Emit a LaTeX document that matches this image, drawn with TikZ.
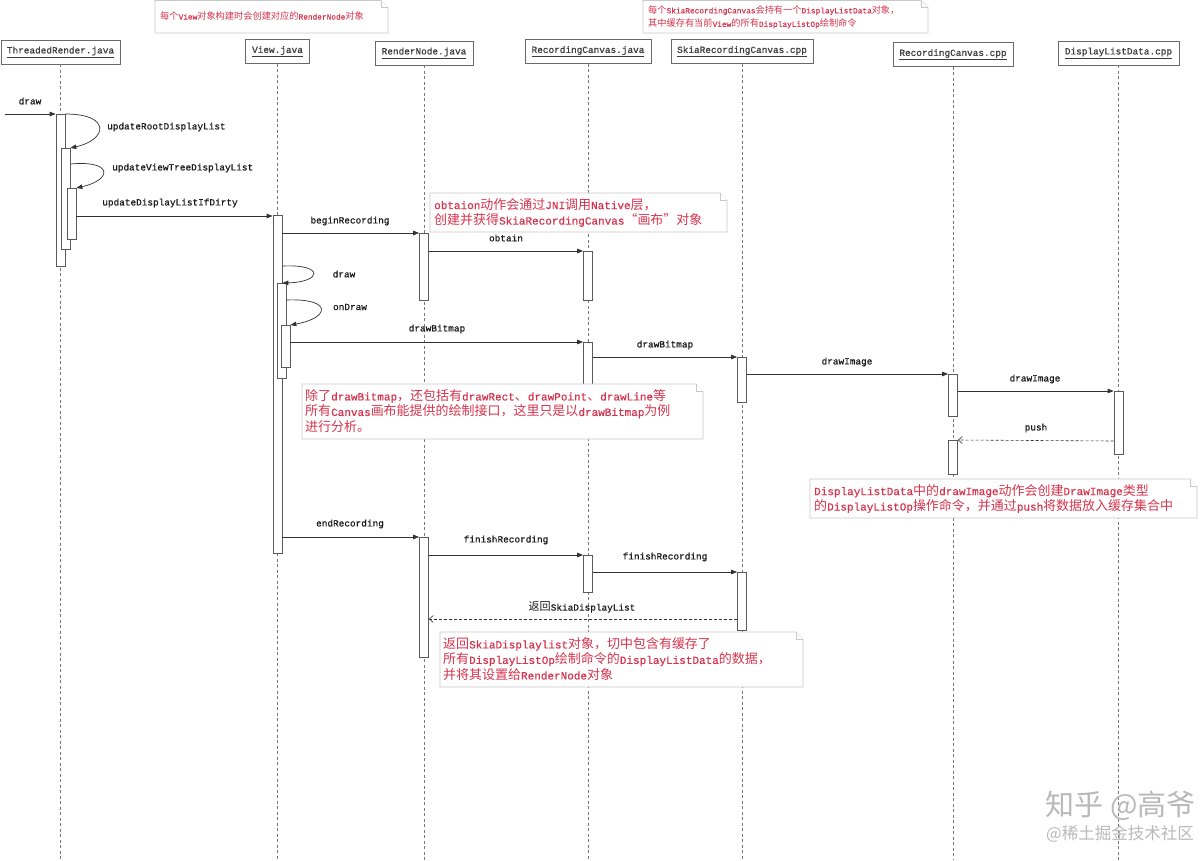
\documentclass[tikz,border=0pt]{standalone}
\usepackage{fontspec}
\setmainfont{Liberation Mono}[FakeBold=0.6]
\newfontfamily\cjkf{Noto Sans CJK SC}[Scale=1.18]
\newfontfamily\cjkw{Noto Sans CJK SC}
\newcommand\zh[1]{{\cjkf #1}}
\usetikzlibrary{arrows.meta}
\definecolor{notered}{RGB}{214,52,78}
\definecolor{notegray}{RGB}{200,200,200}
\definecolor{hdrgray}{RGB}{105,105,105}
\definecolor{hdrtext}{RGB}{60,60,60}
\definecolor{lifegray}{RGB}{120,120,120}
\definecolor{actgray}{RGB}{90,90,90}
\definecolor{msgc}{RGB}{50,50,50}
\definecolor{lblc}{RGB}{25,25,25}
\definecolor{wmgray}{RGB}{185,185,185}
\newcommand\notebox[4]{%
  \filldraw[notefr] (#1,#2) -- (#3-7,#2) -- (#3,#2+7) -- (#3,#4) -- (#1,#4) -- cycle;
  \draw[notefr] (#3-7,#2) -- (#3-7,#2+7) -- (#3,#2+7);}
\tikzset{
  hdr/.style={draw=hdrgray, line width=0.9pt, fill=white, text=hdrtext,
    font=\fontsize{9.4}{11}\selectfont, inner sep=0pt, minimum height=24pt},
  life/.style={draw=lifegray, line width=0.6pt, dash pattern=on 3pt off 2.5pt},
  act/.style={draw=actgray, fill=white, line width=0.7pt, minimum width=9pt,
    inner sep=0pt, anchor=north},
  msg/.style={draw=msgc, line width=0.7pt, -{Triangle[length=6pt,width=4.5pt]}},
  ret/.style={draw=msgc, line width=0.6pt, dash pattern=on 3pt off 2pt,
    -{Straight Barb[length=4pt,width=7pt]}},
  lbl/.style={font=\fontsize{9.4}{11}\selectfont, text=lblc, inner sep=0pt},
  notefr/.style={draw=notegray, fill=white, line width=0.7pt},
  notetx/.style={text=notered, align=left, anchor=west, inner sep=0pt,
    font=\fontsize{11}{15.5}\selectfont},
  notesm/.style={notetx, font=\fontsize{7.8}{13.5}\selectfont},
}
\begin{document}
\begin{tikzpicture}[x=1pt,y=-1pt]
\useasboundingbox (0,0) rectangle (1200,860);
\fill[white] (0,0) rectangle (1200,860);

% headers
\node[hdr, minimum width=119pt] (hTR) at (60.5,52) {\underline{ThreadedRender.java}};
\node[hdr, minimum width=64pt]  (hV)  at (277.5,51.5) {\underline{View.java}};
\node[hdr, minimum width=98pt]  (hRN) at (424,53) {\underline{RenderNode.java}};
\node[hdr, minimum width=126pt] (hRJ) at (588,51.5) {\underline{RecordingCanvas.java}};
\node[hdr, minimum width=142pt] (hS)  at (742,51.5) {\underline{SkiaRecordingCanvas.cpp}};
\node[hdr, minimum width=120pt] (hRC) at (953,54.5) {\underline{RecordingCanvas.cpp}};
\node[hdr, minimum width=121pt] (hD)  at (1118.5,53) {\underline{DisplayListData.cpp}};

% lifelines
\foreach \h in {hTR,hV,hRN,hRJ,hS,hRC,hD}
  \draw[life] (\h.south) -- (\h.south |- 0,860);

% activations
\node[act, minimum height=152pt] (tr1) at (60.5,114) {};
\node[act, minimum height=101pt] (tr2) at (65.5,148) {};
\node[act, minimum height=51pt]  (tr3) at (71.5,188) {};
\node[act, minimum height=338pt] (v1) at (277.5,215) {};
\node[act, minimum height=95pt]  (v2) at (281.5,283) {};
\node[act, minimum height=42pt]  (v3) at (285.5,325) {};
\node[act, minimum height=67pt]  (rn1) at (424,233) {};
\node[act, minimum height=120pt] (rn2) at (424,537) {};
\node[act, minimum height=49pt]  (rj1) at (588,251) {};
\node[act, minimum height=78pt]  (rj2) at (588,342) {};
\node[act, minimum height=37pt]  (rj3) at (588,555) {};
\node[act, minimum height=45pt]  (s1) at (742,357) {};
\node[act, minimum height=58pt]  (s2) at (742,572) {};
\node[act, minimum height=42pt]  (c1) at (953,374) {};
\node[act, minimum height=34pt]  (c2) at (953,440) {};
\node[act, minimum height=63pt]  (d1) at (1118.5,391) {};

% messages
\coordinate (start) at (5,114);
\draw[msg] (start) -- (tr1.north west);
\node[lbl] (l1) at (30,101) {draw};
\draw[msg] (tr1.north east) .. controls (112,114) and (107,140) .. (tr2.north east);
\node[lbl, anchor=west] (l2) at (107,127) {updateRootDisplayList};
\draw[msg] (tr2.east |- 0,164) .. controls (114,160) and (112,180) .. (tr3.north east);
\node[lbl, anchor=west] (l3) at (112,168) {updateViewTreeDisplayList};
\draw[msg] (tr3.east |- 0,216) -- (v1.west |- 0,216);
\node[lbl] (l4) at (170,203) {updateDisplayListIfDirty};
\draw[msg] (v1.east |- 0,233) -- (rn1.north west);
\node[lbl] (l5) at (350,221) {beginRecording};
\draw[msg] (rn1.east |- 0,251) -- (rj1.north west);
\node[lbl] (l6) at (506,238) {obtain};
\draw[msg] (v1.east |- 0,266) .. controls (325,264) and (322,282) .. (v1.east |- v2.north);
\node[lbl] (l7) at (344,274) {draw};
\draw[msg] (v2.east |- 0,300) .. controls (333,298) and (330,318) .. (v3.north east);
\node[lbl] (l8) at (350,307) {onDraw};
\draw[msg] (v3.east |- 0,342) -- (rj2.north west);
\node[lbl] (l9) at (437,329) {drawBitmap};
\draw[msg] (rj2.east |- 0,357) -- (s1.north west);
\node[lbl] (l10) at (665,345) {drawBitmap};
\draw[msg] (s1.east |- 0,374) -- (c1.north west);
\node[lbl] (l11) at (847,362) {drawImage};
\draw[msg] (c1.east |- 0,391) -- (d1.north west);
\node[lbl] (l12) at (1035,379) {drawImage};
\draw[ret] (d1.west |- 0,441) -- (c2.north east);
\node[lbl] (l13) at (1036,428) {push};
\draw[msg] (v1.east |- 0,537) -- (rn2.north west);
\node[lbl] (l14) at (350,524) {endRecording};
\draw[msg] (rn2.east |- 0,555) -- (rj3.north west);
\node[lbl] (l15) at (506,540) {finishRecording};
\draw[msg] (rj3.east |- 0,572) -- (s2.north west);
\node[lbl] (l16) at (665,557) {finishRecording};
\draw[ret] (s2.west |- 0,619) -- (rn2.east |- 0,619);
\node[lbl] (l17) at (582,607) {\zh{返回}SkiaDisplayList};

% notes
\notebox{155}{0.5}{388}{33}
\node[notesm] (n1) at (160,16) {\zh{每个}View\zh{对象构建时会创建对应的}RenderNode\zh{对象}};
\notebox{643}{0.5}{928}{33}
\node[notesm] (n2) at (648,17) {\zh{每个}SkiaRecordingCanvas\zh{会持有一个}DisplayListData\zh{对象，}\\
\zh{其中缓存有当前}View\zh{的所有}DisplayListOp\zh{绘制命令}};
\notebox{430}{193}{727}{232}
\node[notetx] (n3) at (434,212.5) {obtaion\zh{动作会通过}JNI\zh{调用}Native\zh{层，}\\
\zh{创建并获得}SkiaRecordingCanvas\zh{“画布”对象}};
\notebox{302}{384}{703}{439}
\node[notetx] (n4) at (305,411) {\zh{除了}drawBitmap\zh{，还包括有}drawRect\zh{、}drawPoint\zh{、}drawLine\zh{等}\\
\zh{所有}Canvas\zh{画布能提供的绘制接口，这里只是以}drawBitmap\zh{为例}\\
\zh{进行分析。}};
\notebox{810}{479}{1197}{518}
\node[notetx] (n5) at (814,498.5) {DisplayListData\zh{中的}drawImage\zh{动作会创建}DrawImage\zh{类型}\\
\zh{的}DisplayListOp\zh{操作命令，并通过}push\zh{将数据放入缓存集合中}};
\notebox{440}{632}{803}{687}
\node[notetx] (n6) at (443,659) {\zh{返回}SkiaDisplaylist\zh{对象，切中包含有缓存了}\\
\zh{所有}DisplayListOp\zh{绘制命令的}DisplayListData\zh{的数据，}\\
\zh{并将其设置给}RenderNode\zh{对象}};

% watermark
\node[anchor=east, text=wmgray, inner sep=0pt, font=\cjkw\fontsize{29}{32}\selectfont] (w1) at (1196,806) {知乎 @高爷};
\node[anchor=east, text=wmgray, inner sep=0pt, font=\cjkw\fontsize{16.5}{18}\selectfont] (w2) at (1194,834) {@稀土掘金技术社区};
\end{tikzpicture}
\end{document}
